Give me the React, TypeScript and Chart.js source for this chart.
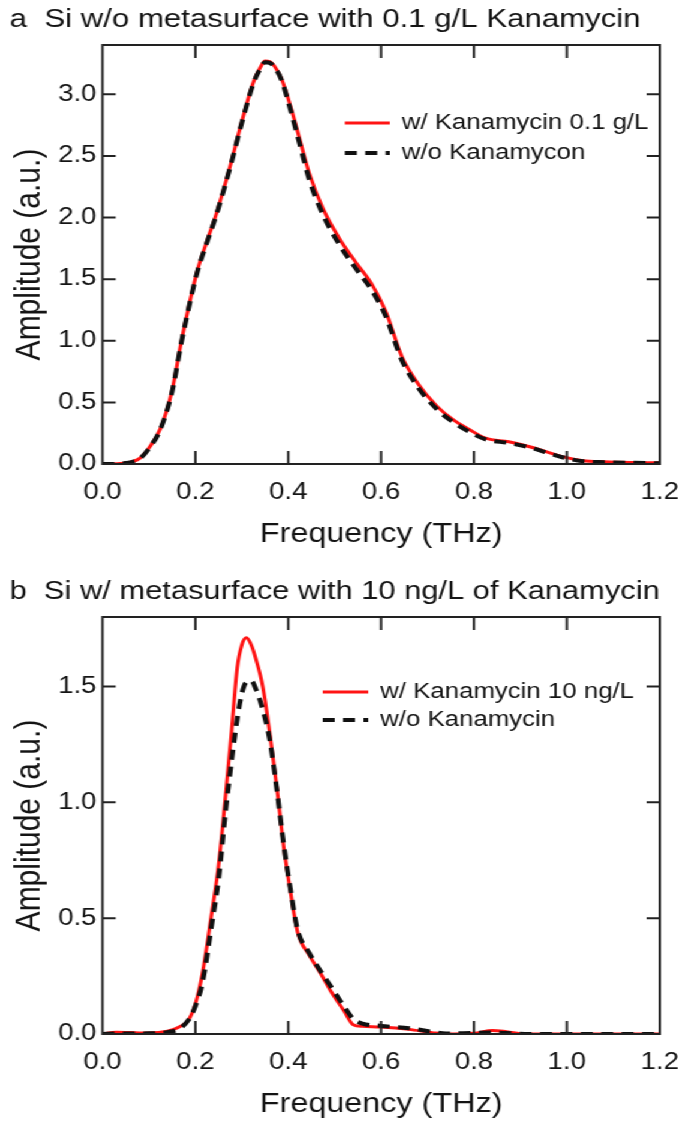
import { useEffect, useRef } from 'react';
import { Chart, registerables } from 'chart.js';

Chart.register(...registerables);

const FONT = '"Liberation Sans", Arial, Helvetica, sans-serif';
const TEXT = '#141414';
const RED = '#ff1414';
const BLACK = '#111111';

// ---- shared axis ticks ----
const X_TICKS = [0, 0.2, 0.4, 0.6, 0.8, 1.0, 1.2];
const Y_TICKS_A = [0, 0.5, 1.0, 1.5, 2.0, 2.5, 3.0];
const Y_TICKS_B = [0, 0.5, 1.0, 1.5];

// ---- panel a ----
const TITLE_A = 'a  Si w/o metasurface with 0.1 g/L Kanamycin';
const LABELS_A = ['w/ Kanamycin 0.1 g/L', 'w/o Kanamycon'];
const FREQ_A = [0, 0.02, 0.045, 0.065, 0.08, 0.1, 0.125, 0.15, 0.17, 0.19, 0.205, 0.225, 0.245, 0.275, 0.3, 0.325, 0.34, 0.35, 0.36, 0.37, 0.385, 0.405, 0.425, 0.445, 0.475, 0.51, 0.545, 0.58, 0.61, 0.645, 0.68, 0.72, 0.755, 0.79, 0.825, 0.875, 0.92, 0.955, 0.99, 1.035, 1.08, 1.14, 1.2];
const WITH_A = [0, 0.0, 0.006, 0.02, 0.045, 0.13, 0.29, 0.6, 1.0, 1.35, 1.58, 1.81, 2.03, 2.42, 2.78, 3.1, 3.22, 3.27, 3.265, 3.23, 3.13, 2.9, 2.63, 2.36, 2.07, 1.83, 1.64, 1.46, 1.24, 0.87, 0.65, 0.47, 0.36, 0.28, 0.21, 0.18, 0.14, 0.1, 0.06, 0.027, 0.018, 0.012, 0.01];
const WITHOUT_A = [0, 0.0, 0.005, 0.018, 0.042, 0.125, 0.285, 0.59, 0.99, 1.34, 1.57, 1.8, 2.02, 2.41, 2.77, 3.09, 3.21, 3.26, 3.255, 3.22, 3.12, 2.87, 2.59, 2.31, 2.02, 1.78, 1.59, 1.41, 1.2, 0.84, 0.62, 0.445, 0.34, 0.26, 0.2, 0.17, 0.135, 0.095, 0.055, 0.022, 0.015, 0.01, 0.006];

// ---- panel b ----
const TITLE_B = 'b  Si w/ metasurface with 10 ng/L of Kanamycin';
const LABELS_B = ['w/ Kanamycin 10 ng/L', 'w/o Kanamycin'];
const FREQ_B = [0, 0.03, 0.06, 0.1, 0.14, 0.165, 0.185, 0.2, 0.215, 0.235, 0.25, 0.265, 0.278, 0.29, 0.3, 0.31, 0.32, 0.33, 0.345, 0.36, 0.375, 0.39, 0.405, 0.42, 0.445, 0.47, 0.49, 0.52, 0.54, 0.56, 0.6, 0.66, 0.71, 0.74, 0.8, 0.84, 0.87, 0.91, 1.0, 1.1, 1.2];
const WITH_B = [0, 0.008, 0.006, 0.004, 0.012, 0.03, 0.06, 0.13, 0.26, 0.52, 0.73, 1.03, 1.31, 1.58, 1.68, 1.71, 1.68, 1.62, 1.5, 1.3, 1.07, 0.81, 0.61, 0.44, 0.34, 0.26, 0.19, 0.1, 0.04, 0.033, 0.03, 0.02, 0.006, 0, 0.003, 0.015, 0.01, 0, 0, 0, 0];
const WITHOUT_B = [0, 0.002, 0.002, 0.003, 0.008, 0.022, 0.06, 0.12, 0.22, 0.47, 0.67, 0.96, 1.18, 1.36, 1.47, 1.52, 1.525, 1.49, 1.4, 1.27, 1.06, 0.82, 0.62, 0.45, 0.35, 0.27, 0.21, 0.12, 0.065, 0.045, 0.035, 0.025, 0.01, 0.002, 0.005, 0.006, 0.004, 0, 0, 0, 0];

// canvas is drawn narrower and stretched horizontally, as the reference figure is
const CANVAS_W = 571;
const STRETCH = 685 / CANVAS_W;

const framePlugin = {
  id: 'frameTicks',
  afterDatasetsDraw(chart: any, _args: any, opts: any) {
    const { ctx, chartArea: a, scales } = chart;
    const xs = scales.x;
    const ys = scales.y;
    ctx.save();
    ctx.strokeStyle = opts.color;
    ctx.lineWidth = opts.lineWidth;
    ctx.setLineDash([]);
    ctx.strokeRect(a.left, a.top, a.right - a.left, a.bottom - a.top);
    ctx.beginPath();
    for (const t of xs.ticks) {
      const v = t.value;
      if (v <= xs.min + 1e-9 || v >= xs.max - 1e-9) continue;
      const px = xs.getPixelForValue(v);
      ctx.moveTo(px, a.bottom);
      ctx.lineTo(px, a.bottom - opts.lenV);
      ctx.moveTo(px, a.top);
      ctx.lineTo(px, a.top + opts.lenV);
    }
    for (const t of ys.ticks) {
      const v = t.value;
      if (v <= ys.min + 1e-9 || v >= ys.max - 1e-9) continue;
      const py = ys.getPixelForValue(v);
      ctx.moveTo(a.left, py);
      ctx.lineTo(a.left + opts.lenH, py);
      ctx.moveTo(a.right, py);
      ctx.lineTo(a.right - opts.lenH, py);
    }
    ctx.stroke();
    ctx.restore();
  },
};

const inLegendPlugin = {
  id: 'inLegend',
  afterDatasetsDraw(chart: any, _args: any, opts: any) {
    const { ctx } = chart;
    ctx.save();
    chart.data.datasets.forEach((ds: any, i: number) => {
      const y = opts.y + i * opts.dy;
      ctx.beginPath();
      ctx.strokeStyle = ds.borderColor;
      ctx.lineWidth = ds.borderWidth;
      ctx.setLineDash(ds.borderDash || []);
      ctx.moveTo(opts.x1, y);
      ctx.lineTo(opts.x2, y);
      ctx.stroke();
      ctx.setLineDash([]);
      ctx.fillStyle = TEXT;
      ctx.font = `${opts.size}px ${FONT}`;
      ctx.textBaseline = 'middle';
      ctx.textAlign = 'left';
      ctx.fillText(ds.label, opts.tx, y);
    });
    ctx.restore();
  },
};

function makeConfig(p: any): any {
  const toPts = (vals: number[]) => p.freq.map((f: number, i: number) => ({ x: f, y: vals[i] }));
  return {
    type: 'line',
    data: {
      datasets: [
        {
          label: p.labels[0],
          data: toPts(p.withVals),
          borderColor: RED,
          borderWidth: 3,
          pointRadius: 0,
          fill: false,
          cubicInterpolationMode: 'monotone',
          order: 1,
        },
        {
          label: p.labels[1],
          data: toPts(p.withoutVals),
          borderColor: BLACK,
          borderWidth: 4,
          borderDash: [10, 7],
          pointRadius: 0,
          fill: false,
          cubicInterpolationMode: 'monotone',
          order: 0,
        },
      ],
    },
    plugins: [framePlugin, inLegendPlugin],
    options: {
      responsive: false,
      animation: false,
      devicePixelRatio: 1,
      events: [],
      layout: { padding: { left: 8, right: 21, top: 0, bottom: p.padBottom } },
      plugins: {
        legend: { display: false },
        tooltip: { enabled: false },
        title: {
          display: true,
          text: p.title,
          align: 'start',
          color: TEXT,
          font: { family: FONT, size: 26, weight: 'normal', lineHeight: 1.2 },
          padding: { top: p.titleTop, bottom: p.titleBottom },
        },
        frameTicks: { color: '#222222', lineWidth: 2, lenV: 13, lenH: 11 },
        inLegend: p.legend,
      },
      scales: {
        x: {
          type: 'linear',
          min: 0,
          max: 1.2,
          afterBuildTicks: (s: any) => {
            s.ticks = X_TICKS.map((v) => ({ value: v }));
          },
          afterFit: (s: any) => {
            s.height = 84;
            s.paddingLeft = 0;
            s.paddingRight = 0;
          },
          grid: { display: false, drawTicks: false },
          border: { display: false },
          ticks: {
            color: TEXT,
            font: { family: FONT, size: 23, lineHeight: 1.2 },
            padding: 15,
            maxRotation: 0,
            autoSkip: false,
            callback: (v: any) => Number(v).toFixed(1),
          },
          title: {
            display: true,
            text: 'Frequency (THz)',
            color: TEXT,
            font: { family: FONT, size: 27, lineHeight: 1 },
            padding: { top: 0, bottom: 0 },
          },
        },
        y: {
          type: 'linear',
          min: 0,
          max: p.yMax,
          afterBuildTicks: (s: any) => {
            s.ticks = p.yTicks.map((v: number) => ({ value: v }));
          },
          afterFit: (s: any) => {
            s.width = 77.4;
            s.paddingTop = 0;
            s.paddingBottom = 0;
          },
          grid: { display: false, drawTicks: false },
          border: { display: false },
          ticks: {
            color: TEXT,
            font: { family: FONT, size: 23, lineHeight: 1.2 },
            padding: 5,
            autoSkip: false,
            callback: (v: any) => Number(v).toFixed(1),
          },
          title: {
            display: true,
            text: 'Amplitude (a.u.)',
            color: TEXT,
            font: { family: FONT, size: 30, lineHeight: 1 },
            padding: { top: 2, bottom: 0 },
          },
        },
      },
    },
  };
}

export default function App() {
  const refA = useRef<HTMLCanvasElement | null>(null);
  const refB = useRef<HTMLCanvasElement | null>(null);

  useEffect(() => {
    const a = new Chart(
      refA.current as HTMLCanvasElement,
      makeConfig({
        title: TITLE_A,
        labels: LABELS_A,
        freq: FREQ_A,
        withVals: WITH_A,
        withoutVals: WITHOUT_A,
        yMax: 3.4,
        yTicks: Y_TICKS_A,
        titleTop: 4,
        titleBottom: 9.8,
        padBottom: 12,
        legend: { x1: 287.5, x2: 325, tx: 335, y: 123, dy: 30, size: 21.5 },
      })
    );
    const b = new Chart(
      refB.current as HTMLCanvasElement,
      makeConfig({
        title: TITLE_B,
        labels: LABELS_B,
        freq: FREQ_B,
        withVals: WITH_B,
        withoutVals: WITHOUT_B,
        yMax: 1.8,
        yTicks: Y_TICKS_B,
        titleTop: 16,
        titleBottom: 9.8,
        padBottom: 8,
        legend: { x1: 269, x2: 307, tx: 317, y: 132, dy: 28, size: 21.5 },
      })
    );
    return () => {
      a.destroy();
      b.destroy();
    };
  }, []);

  return (
    <div
      style={{
        position: 'absolute',
        left: 0,
        top: 0,
        width: CANVAS_W,
        height: 1126,
        background: '#ffffff',
        transform: `scaleX(${STRETCH})`,
        transformOrigin: '0 0',
      }}
    >
      <canvas ref={refA} width={CANVAS_W} height={560} style={{ display: 'block', width: CANVAS_W, height: 560 }} />
      <canvas ref={refB} width={CANVAS_W} height={566} style={{ display: 'block', width: CANVAS_W, height: 566 }} />
    </div>
  );
}
